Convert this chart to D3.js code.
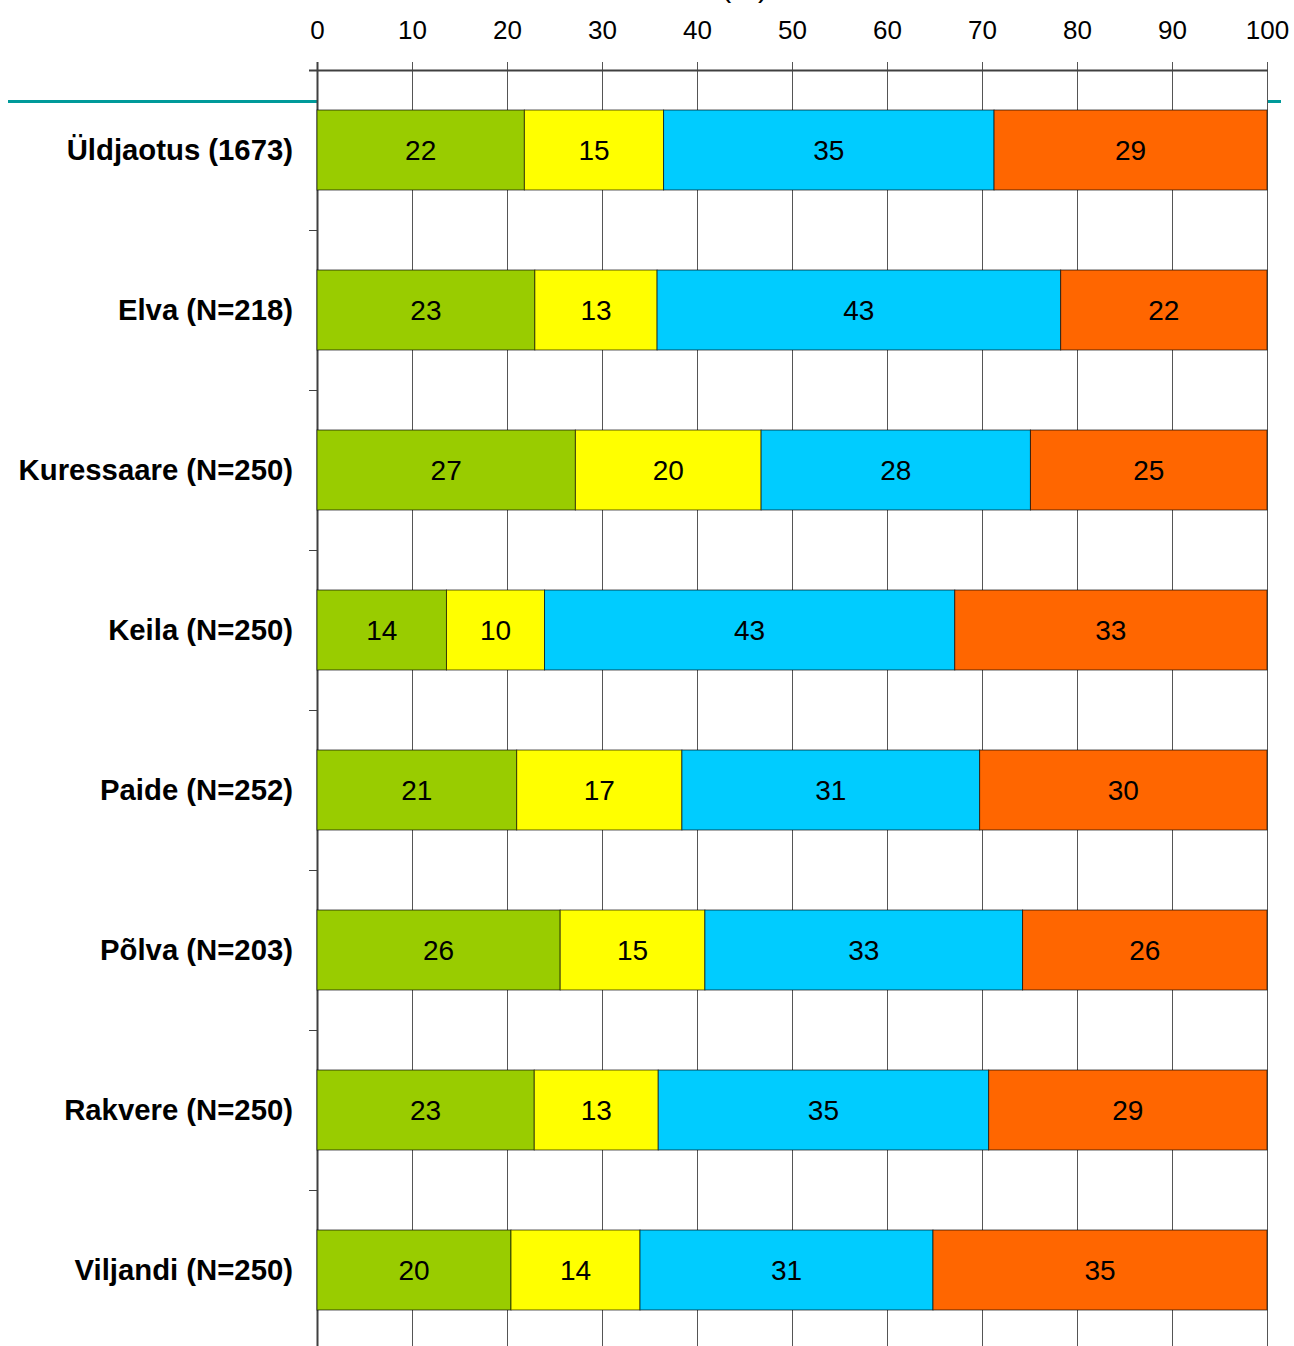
<!DOCTYPE html>
<html>
<head>
<meta charset="utf-8">
<script src="https://cdn.jsdelivr.net/npm/d3@7"></script>
<style>
  html, body { margin: 0; padding: 0; background: #fff; }
  svg { display: block; font-family: "Liberation Sans", Arial, sans-serif; }
</style>
</head>
<body>
<script>
// ---- data ----
const categories = ["Üldjaotus (1673)", "Elva (N=218)", "Kuressaare (N=250)", "Keila (N=250)",
                    "Paide (N=252)", "Põlva (N=203)", "Rakvere (N=250)", "Viljandi (N=250)"];
const seriesNames = ["s1", "s2", "s3", "s4"];
const seriesColors = ["#99cc00", "#ffff00", "#00ccff", "#ff6600"];
const values1 = [21.83, 22.93, 27.20, 13.63, 21.02, 25.60, 22.87, 20.42];
const values2 = [14.65, 12.87, 19.55, 10.32, 17.39, 15.23, 13.05, 13.58];
const values3 = [34.79, 42.48, 28.35, 43.18, 31.34, 33.44, 34.78, 30.84];
const values4 = [28.73, 21.72, 24.90, 32.87, 30.25, 25.73, 29.30, 35.16];
const labels1 = [22, 23, 27, 14, 21, 26, 23, 20];
const labels2 = [15, 13, 20, 10, 17, 15, 13, 14];
const labels3 = [35, 43, 28, 43, 31, 33, 35, 31];
const labels4 = [29, 22, 25, 33, 30, 26, 29, 35];
const xTicks = [0, 10, 20, 30, 40, 50, 60, 70, 80, 90, 100];
const axisTitle = "(%)";

(function () {
const W = 1294, H = 1346;
const mLeft = 317, mRight = 1267, mTop = 70, mBottom = 1350;

const svg = d3.select("body").append("svg").attr("width", W).attr("height", H);

const x = d3.scaleLinear().domain([0, 100]).range([mLeft, mRight]);
const y = d3.scaleBand().domain(categories).range([mTop, mBottom])
  .paddingInner(0.5).paddingOuter(0.25);

// teal decorative line
svg.append("line").attr("x1", 8).attr("x2", mLeft).attr("y1", 101.5).attr("y2", 101.5)
  .attr("stroke", "#009a9a").attr("stroke-width", 3);
svg.append("line").attr("x1", mRight).attr("x2", 1281).attr("y1", 101.5).attr("y2", 101.5)
  .attr("stroke", "#009a9a").attr("stroke-width", 3);

// grid lines
svg.append("g").selectAll("line").data(xTicks).join("line")
  .attr("x1", d => x(d) + 0.5).attr("x2", d => x(d) + 0.5)
  .attr("y1", mTop - 8).attr("y2", H)
  .attr("stroke", "#555").attr("stroke-width", 1);

// top axis
const xAxis = d3.axisTop(x).tickValues(xTicks).tickSize(0).tickPadding(0).tickFormat(d3.format("d"));
const gx = svg.append("g").attr("transform", `translate(0,${mTop})`).call(xAxis);
gx.select(".domain").remove();
gx.selectAll(".tick line").remove();
gx.selectAll("text").attr("font-size", 26).attr("fill", "#000")
  .attr("font-family", "Liberation Sans, Arial, sans-serif")
  .attr("y", 38.5 - mTop).attr("dy", null);
svg.append("line").attr("x1", mLeft - 8).attr("x2", mRight + 1).attr("y1", mTop + 0.5).attr("y2", mTop + 0.5)
  .attr("stroke", "#404040").attr("stroke-width", 2);

// axis title (cut off at top, as in the reference)
svg.append("text").attr("x", 768).attr("y", -3).attr("text-anchor", "end")
  .attr("font-size", 30).text(axisTitle);

// left axis
svg.append("line").attr("x1", mLeft + 0.5).attr("x2", mLeft + 0.5).attr("y1", mTop - 8).attr("y2", H)
  .attr("stroke", "#404040").attr("stroke-width", 2);
const gap = (y.step() - y.bandwidth()) / 2;
svg.append("g").selectAll("line").data(categories.slice(1)).join("line")
  .attr("x1", mLeft - 8).attr("x2", mLeft)
  .attr("y1", c => y(c) - gap + 0.5)
  .attr("y2", c => y(c) - gap + 0.5)
  .attr("stroke", "#404040").attr("stroke-width", 1);

// category labels
svg.append("g").selectAll("text").data(categories).join("text")
  .attr("x", 293).attr("y", c => y(c) + y.bandwidth() / 2 + 10)
  .attr("text-anchor", "end").attr("font-size", 29.3).attr("font-weight", "bold")
  .attr("fill", "#000").text(c => c);

// stacked bars
const allVals = [values1, values2, values3, values4];
const allLabels = [labels1, labels2, labels3, labels4];
const rows = categories.map((c, i) => {
  const r = { cat: c };
  seriesNames.forEach((s, j) => r[s] = allVals[j][i]);
  return r;
});
const stack = d3.stack().keys(seriesNames)(rows);

const gBars = svg.append("g");
stack.forEach((layer, j) => {
  const g = gBars.append("g");
  g.selectAll("rect").data(layer).join("rect")
    .attr("x", d => x(d[0]))
    .attr("width", d => x(d[1]) - x(d[0]))
    .attr("y", d => y(d.data.cat))
    .attr("height", y.bandwidth())
    .attr("fill", seriesColors[j])
    .attr("stroke", "rgba(0,0,0,0.65)").attr("stroke-width", 1);
  g.selectAll("text").data(layer).join("text")
    .attr("x", d => (x(d[0]) + x(d[1])) / 2)
    .attr("y", d => y(d.data.cat) + y.bandwidth() / 2 + 10)
    .attr("text-anchor", "middle").attr("font-size", 28).attr("fill", "#000")
    .text((d, i) => allLabels[j][i]);
});
})();
</script>
</body>
</html>
